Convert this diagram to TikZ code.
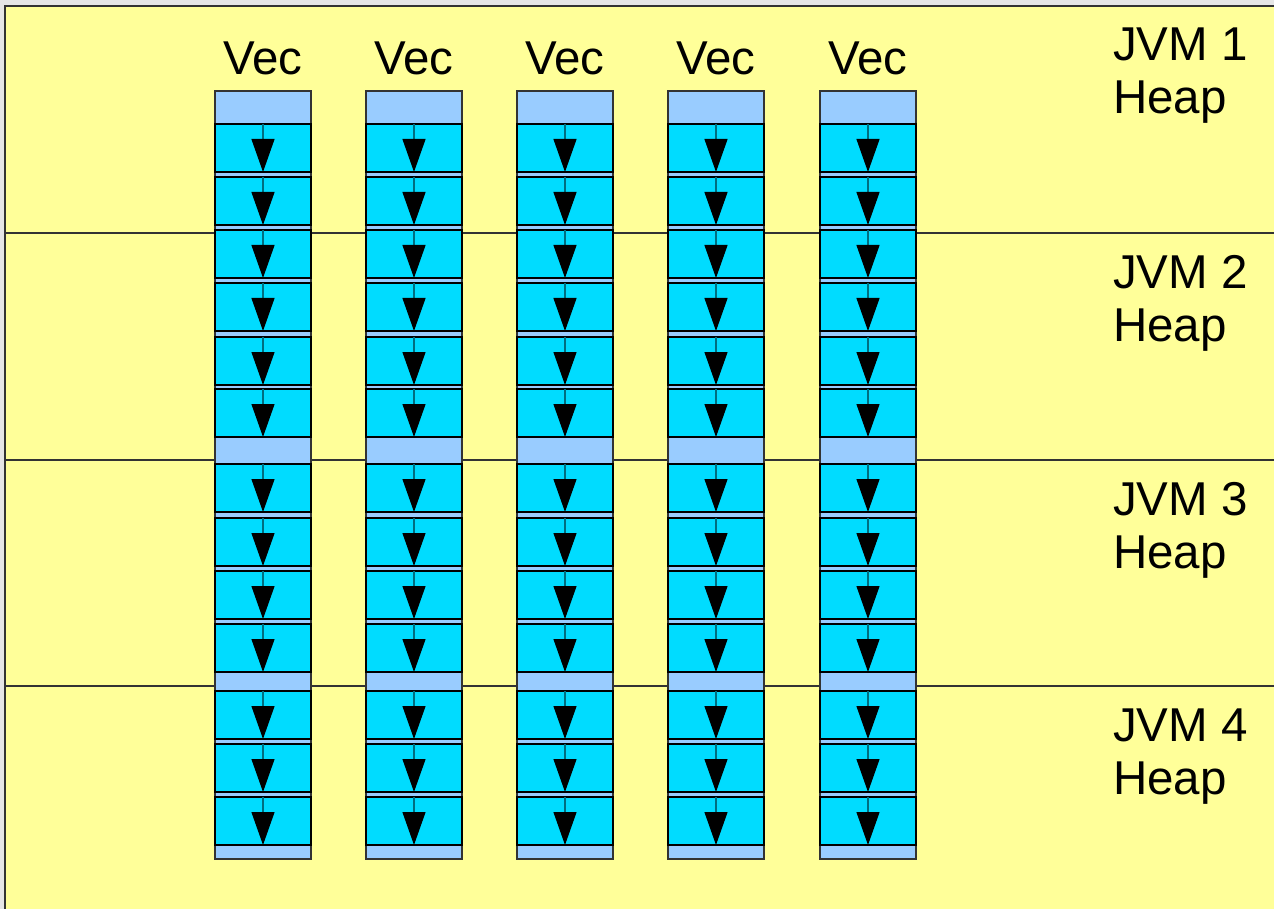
\documentclass[tikz,border=0pt]{standalone}
\usepackage{fontspec}
\setmainfont{Liberation Sans}
\usetikzlibrary{arrows.meta}
\definecolor{bgyellow}{HTML}{FFFF99}
\definecolor{outergray}{HTML}{E6E6E6}
\definecolor{framegray}{HTML}{333333}
\definecolor{lblue}{HTML}{99CCFF}
\definecolor{cellcyan}{HTML}{00DCFF}
\definecolor{teal}{HTML}{006E80}
\tikzset{
  colbox/.style={draw=framegray, fill=lblue, line width=1.3pt, minimum width=96pt, minimum height=768pt, inner sep=0pt, outer sep=0pt},
  cellbox/.style={draw=black, fill=cellcyan, line width=1.3pt, minimum width=96pt, minimum height=48pt, inner sep=0pt, outer sep=0pt},
  arr/.style={draw=teal, line width=1.2pt, -{Triangle[width=23pt,length=33pt,black]}},
  bigtext/.style={font=\fontsize{47.5}{53}\selectfont, inner sep=0pt, outer sep=0pt},
  divider/.style={draw=framegray, line width=1.1pt}
}
\begin{document}
\begin{tikzpicture}[x=1pt,y=-1pt]
\fill[outergray] (0,0) rectangle (1274,909);
\useasboundingbox (0,0) rectangle (1274,909);
\fill[bgyellow] (5,6) rectangle (1274,909);
\coordinate (fbl) at (5,909);
\coordinate (ftl) at (5,6);
\coordinate (ftr) at (1274,6);
\draw[divider, line width=1.6pt] (fbl) -- (ftl) -- (ftr);
\foreach \y [count=\k] in {233,460,686} {
  \coordinate (la\k) at (5,\y);
  \coordinate (lb\k) at (1274,\y);
  \draw[divider] (la\k) -- (lb\k);
}
\foreach \c [count=\i] in {263,414,565,716,868} {
  \node[colbox] (col\i) at (\c,475) {};
  \node[bigtext, anchor=base] (vec\i) at (\c,75) {Vec};
  \foreach \t [count=\j] in {124,177,230,283,337,389,464,518,571,624,691,744,797} {
    \node[cellbox] (c\i-\j) at (\c,\t+24) {};
    \draw[arr] (c\i-\j.north) -- (c\i-\j.south);
  }
}
\node[bigtext, anchor=base west, align=left] (jvm1) at (1113,114) {JVM 1\\Heap};
\node[bigtext, anchor=base west, align=left] (jvm2) at (1113,341) {JVM 2\\Heap};
\node[bigtext, anchor=base west, align=left] (jvm3) at (1113,568) {JVM 3\\Heap};
\node[bigtext, anchor=base west, align=left] (jvm4) at (1113,794) {JVM 4\\Heap};
\end{tikzpicture}
\end{document}
